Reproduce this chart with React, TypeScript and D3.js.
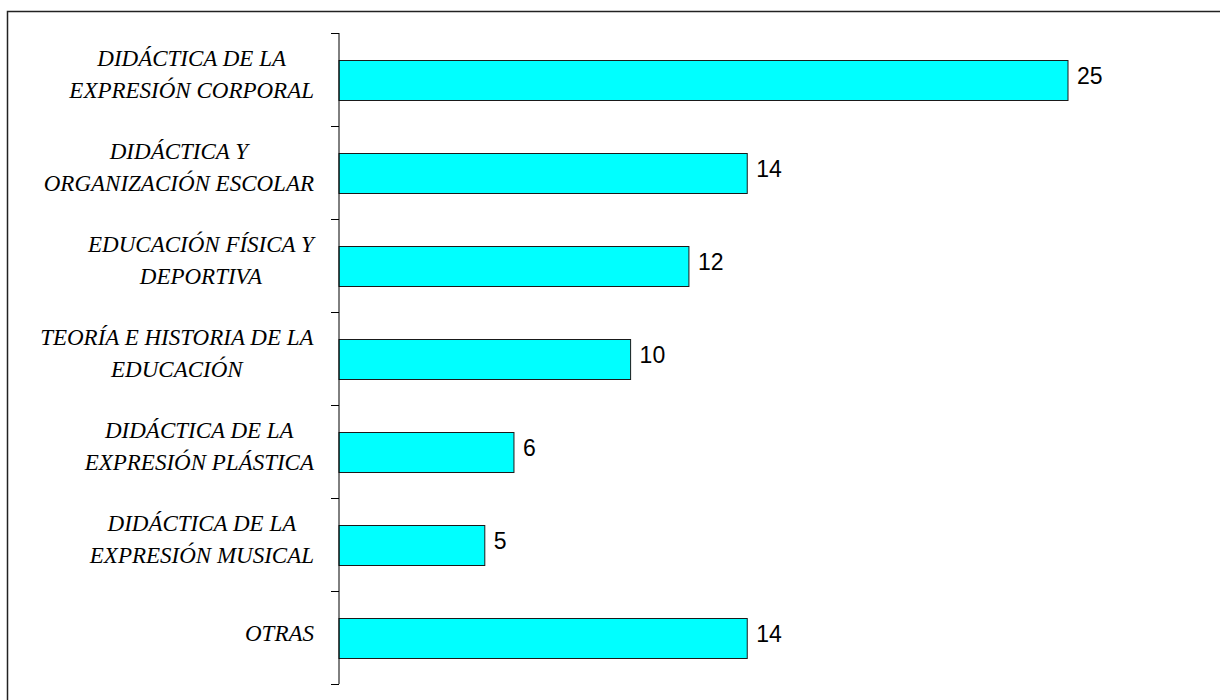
import * as d3 from 'd3';
import * as React from 'react';

// category labels, split on the line breaks of the original chart
const categories: string[][] = [
  ['DIDÁCTICA DE LA', 'EXPRESIÓN CORPORAL'],
  ['DIDÁCTICA Y', 'ORGANIZACIÓN ESCOLAR'],
  ['EDUCACIÓN FÍSICA Y', 'DEPORTIVA'],
  ['TEORÍA E HISTORIA DE LA', 'EDUCACIÓN'],
  ['DIDÁCTICA DE LA', 'EXPRESIÓN PLÁSTICA'],
  ['DIDÁCTICA DE LA', 'EXPRESIÓN MUSICAL'],
  ['OTRAS'],
];

const values: number[] = [25, 14, 12, 10, 6, 5, 14];

const WIDTH = 1220;
const HEIGHT = 700;
const LABEL_FONT = 'italic 23px "Liberation Serif"';

let measureCtx: CanvasRenderingContext2D | null = null;
function textWidth(txt: string): number {
  if (!measureCtx) {
    measureCtx = document.createElement('canvas').getContext('2d');
  }
  if (!measureCtx) return txt.length * 12;
  measureCtx.font = LABEL_FONT;
  return measureCtx.measureText(txt).width;
}

class BarChart extends React.Component<{}, {}> {
  private mX = d3.scaleLinear().domain([0, 25]).range([339, 1068]);
  private mY = d3.scaleBand<number>()
    .domain(d3.range(values.length))
    .range([33, 684])
    .paddingInner(0.57)
    .paddingOuter(0.285);
  private mBands = d3.scaleBand<number>()
    .domain(d3.range(values.length))
    .range([33, 684]);

  public render(): JSX.Element {
    const x0 = this.mX(0);
    const ticks = d3.range(values.length + 1).map(i => 33 + i * this.mBands.step());
    return (
      <svg width={WIDTH} height={HEIGHT}
        style={{ position: 'absolute', left: 0, top: 0, display: 'block', background: '#fff' }}>
        <rect x={7.5} y={11.5} width={WIDTH + 20} height={HEIGHT + 20}
          fill='none' stroke='#222' strokeWidth={1.5} />

        {values.map(this.renderBar)}

        <line x1={x0} x2={x0} y1={33} y2={684} stroke='#000' strokeWidth={1} />
        {ticks.map((t, i) => (
          <line key={i} x1={x0 - 8} x2={x0} y1={Math.round(t) + 0.5} y2={Math.round(t) + 0.5}
            stroke='#000' strokeWidth={1} />
        ))}

        {categories.map(this.renderLabel)}
      </svg>
    );
  }

  private renderBar = (v: number, idx: number): JSX.Element => {
    const y = this.mY(idx) as number;
    const h = this.mY.bandwidth();
    const x0 = this.mX(0);
    const cy = (this.mBands(idx) as number) + this.mBands.bandwidth() / 2;
    return (
      <g key={idx}>
        <rect x={x0} y={Math.round(y) + 0.5} width={this.mX(v) - x0} height={Math.round(h)}
          fill='#00ffff' stroke='#1a1a1a' strokeWidth={1} />
        <text x={this.mX(v) + 9} y={cy + 4} fontFamily='"Liberation Sans", Arial, sans-serif'
          fontSize={23} fill='#000'>{v}</text>
      </g>
    );
  }

  private renderLabel = (lines: string[], idx: number): JSX.Element => {
    const cy = (this.mBands(idx) as number) + this.mBands.bandwidth() / 2;
    const maxW = d3.max(lines, l => textWidth(l)) || 0;
    const cx = 314 - maxW / 2;
    const baselines = lines.length === 1 ? [cy + 3] : [cy - 14, cy + 18];
    return (
      <text key={idx} textAnchor='middle' fontFamily='"Liberation Serif", serif'
        fontStyle='italic' fontSize={23} fill='#000'>
        {lines.map((l, i) => (
          <tspan key={i} x={cx} y={baselines[i]}>{l}</tspan>
        ))}
      </text>
    );
  }
}

export default function App() {
  return <BarChart />;
}
